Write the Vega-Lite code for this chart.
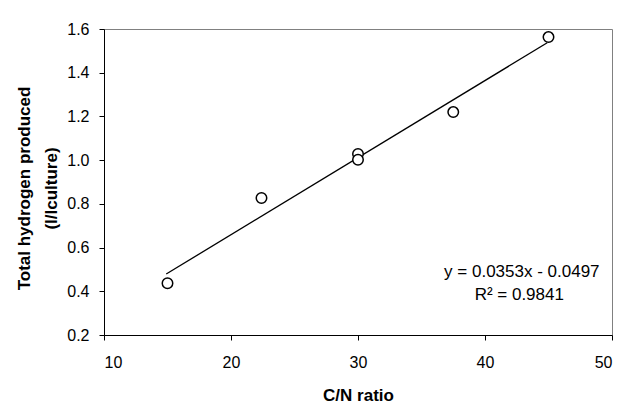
{
  "$schema": "https://vega.github.io/schema/vega-lite/v6.json",
  "autosize": "none",
  "width": 508,
  "height": 306,
  "padding": {"left": 104, "top": 29, "right": 10, "bottom": 77},
  "background": "white",
  "config": {
    "font": "Liberation Sans",
    "view": {"stroke": "#808080", "strokeWidth": 1},
    "axis": {
      "grid": false,
      "domainColor": "black",
      "tickColor": "black",
      "tickSize": 5,
      "labelFontSize": 16,
      "labelColor": "black",
      "titleFontSize": 17,
      "titleFontWeight": "bold",
      "titleColor": "black",
      "labelFont": "Liberation Sans",
      "titleFont": "Liberation Sans"
    }
  },
  "datasets": {
    "pts": [
      {"cn": 15, "h2": 0.437},
      {"cn": 22.4, "h2": 0.827},
      {"cn": 30, "h2": 1.028},
      {"cn": 30, "h2": 1.002},
      {"cn": 37.5, "h2": 1.22},
      {"cn": 45, "h2": 1.563}
    ],
    "fit": [
      {"cn": 14.9, "h2": 0.479},
      {"cn": 44.9, "h2": 1.537}
    ],
    "labels": [
      {"cn": 42.9, "h2": 0.465, "txt": "y = 0.0353x - 0.0497"},
      {"cn": 42.7, "h2": 0.36, "txt": "R² = 0.9841"}
    ]
  },
  "encoding": {
    "x": {
      "field": "cn", "type": "quantitative",
      "scale": {"domain": [10, 50], "nice": false, "zero": false},
      "axis": {"title": "C/N ratio", "values": [10, 20, 30, 40, 50], "labelPadding": 14, "titleY": 65, "titleBaseline": "alphabetic"}
    },
    "y": {
      "field": "h2", "type": "quantitative",
      "scale": {"domain": [0.2, 1.6], "nice": false, "zero": false},
      "axis": {
        "title": ["Total hydrogen produced", "(l/lculture)"],
        "values": [0.2, 0.4, 0.6, 0.8, 1.0, 1.2, 1.4, 1.6],
        "format": ".1f",
        "labelPadding": 10,
        "titleX": -75, "titleY": 159, "titleAngle": -90, "titleAlign": "center", "titleBaseline": "alphabetic", "titleLineHeight": 27
      }
    }
  },
  "layer": [
    {
      "data": {"name": "fit"},
      "mark": {"type": "line", "color": "black", "strokeWidth": 1.3}
    },
    {
      "data": {"name": "pts"},
      "mark": {"type": "point", "shape": "circle", "filled": false, "color": "black", "fill": "white", "fillOpacity": 1, "strokeWidth": 1.5, "size": 110, "opacity": 1}
    },
    {
      "data": {"name": "labels"},
      "mark": {"type": "text", "fontSize": 17, "color": "black", "align": "center", "baseline": "alphabetic", "font": "Liberation Sans"},
      "encoding": {"text": {"field": "txt"}}
    }
  ]
}
